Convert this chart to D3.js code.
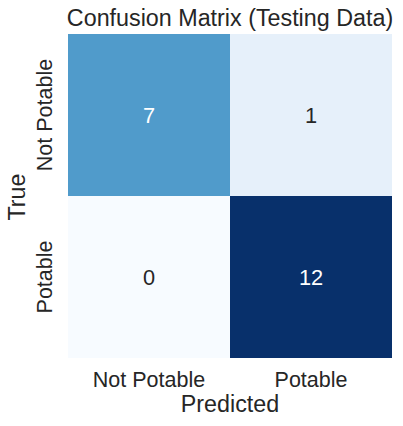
<!DOCTYPE html>
<html><head><meta charset="utf-8">
<script src="https://cdn.jsdelivr.net/npm/d3@7"></script>
<style>html,body{margin:0;padding:0;background:#fff;}svg{display:block;font-family:"Liberation Sans",Arial,sans-serif;}</style>
</head><body>
<svg id="c" width="403" height="426"></svg>
<script>
const predictedLabels = ["Not Potable", "Potable"];
const trueLabels = ["Not Potable", "Potable"];
const rowNotPotable = [7, 1];
const rowPotable = [0, 12];
const title = "Confusion Matrix (Testing Data)";
const xTitle = "Predicted";
const yTitle = "True";
const bluesStops = ["#f7fbff","#deebf7","#c6dbef","#9ecae1","#6baed6","#4292c6","#2171b5","#08519c","#08306b"];

const rows = [rowNotPotable, rowPotable];
const cells = [];
rows.forEach((r, i) => r.forEach((v, j) => cells.push({t: trueLabels[i], p: predictedLabels[j], v})));

const svg = d3.select("#c");
const L = 68, R = 392, T = 34, B = 358;
const x = d3.scaleBand().domain(predictedLabels).range([L, R]);
const y = d3.scaleBand().domain(trueLabels).range([T, B]);
const vmax = d3.max(cells, d => d.v), vmin = d3.min(cells, d => d.v);
const color = d3.scaleLinear()
  .domain(bluesStops.map((_, i) => vmin + (vmax - vmin) * i / (bluesStops.length - 1)))
  .range(bluesStops).interpolate(d3.interpolateRgb);

svg.append("g").selectAll("rect").data(cells).join("rect")
  .attr("x", d => x(d.p)).attr("y", d => y(d.t))
  .attr("width", x.bandwidth()).attr("height", y.bandwidth())
  .attr("fill", d => color(d.v));

svg.append("g").selectAll("text").data(cells).join("text")
  .attr("x", d => x(d.p) + x.bandwidth() / 2)
  .attr("y", d => y(d.t) + y.bandwidth() / 2)
  .attr("dy", "0.36em")
  .attr("text-anchor", "middle")
  .attr("font-size", "21.8px")
  .attr("fill", d => (d.v - vmin) / (vmax - vmin) > 0.5 ? "#ffffff" : "#262626")
  .text(d => d.v);

const xAxis = svg.append("g").attr("transform", `translate(0,${B})`)
  .call(d3.axisBottom(x).tickSize(0).tickPadding(0));
xAxis.select(".domain").remove();
xAxis.selectAll("text").attr("font-size", "21.5px").attr("fill", "#262626")
  .attr("font-family", "Liberation Sans, Arial, sans-serif").attr("dy", null).attr("y", 29);

const yAxis = svg.append("g").attr("transform", `translate(${L},0)`)
  .call(d3.axisLeft(y).tickSize(0).tickPadding(0));
yAxis.select(".domain").remove();
yAxis.selectAll("text").attr("font-size", "21.5px").attr("fill", "#262626")
  .attr("font-family", "Liberation Sans, Arial, sans-serif")
  .attr("x", null).attr("dy", null)
  .attr("text-anchor", "middle")
  .attr("transform", "translate(-16,0) rotate(-90)");

svg.append("text").attr("x", (L + R) / 2).attr("y", 26)
  .attr("text-anchor", "middle").attr("font-size", "23.3px").attr("fill", "#262626").text(title);
svg.append("text").attr("x", (L + R) / 2).attr("y", 412)
  .attr("text-anchor", "middle").attr("font-size", "23.3px").attr("fill", "#262626").text(xTitle);
svg.append("text").attr("transform", `translate(25,${(T + B) / 2 + 1}) rotate(-90)`)
  .attr("text-anchor", "middle").attr("font-size", "23.3px").attr("fill", "#262626").text(yTitle);
</script>
</body></html>
